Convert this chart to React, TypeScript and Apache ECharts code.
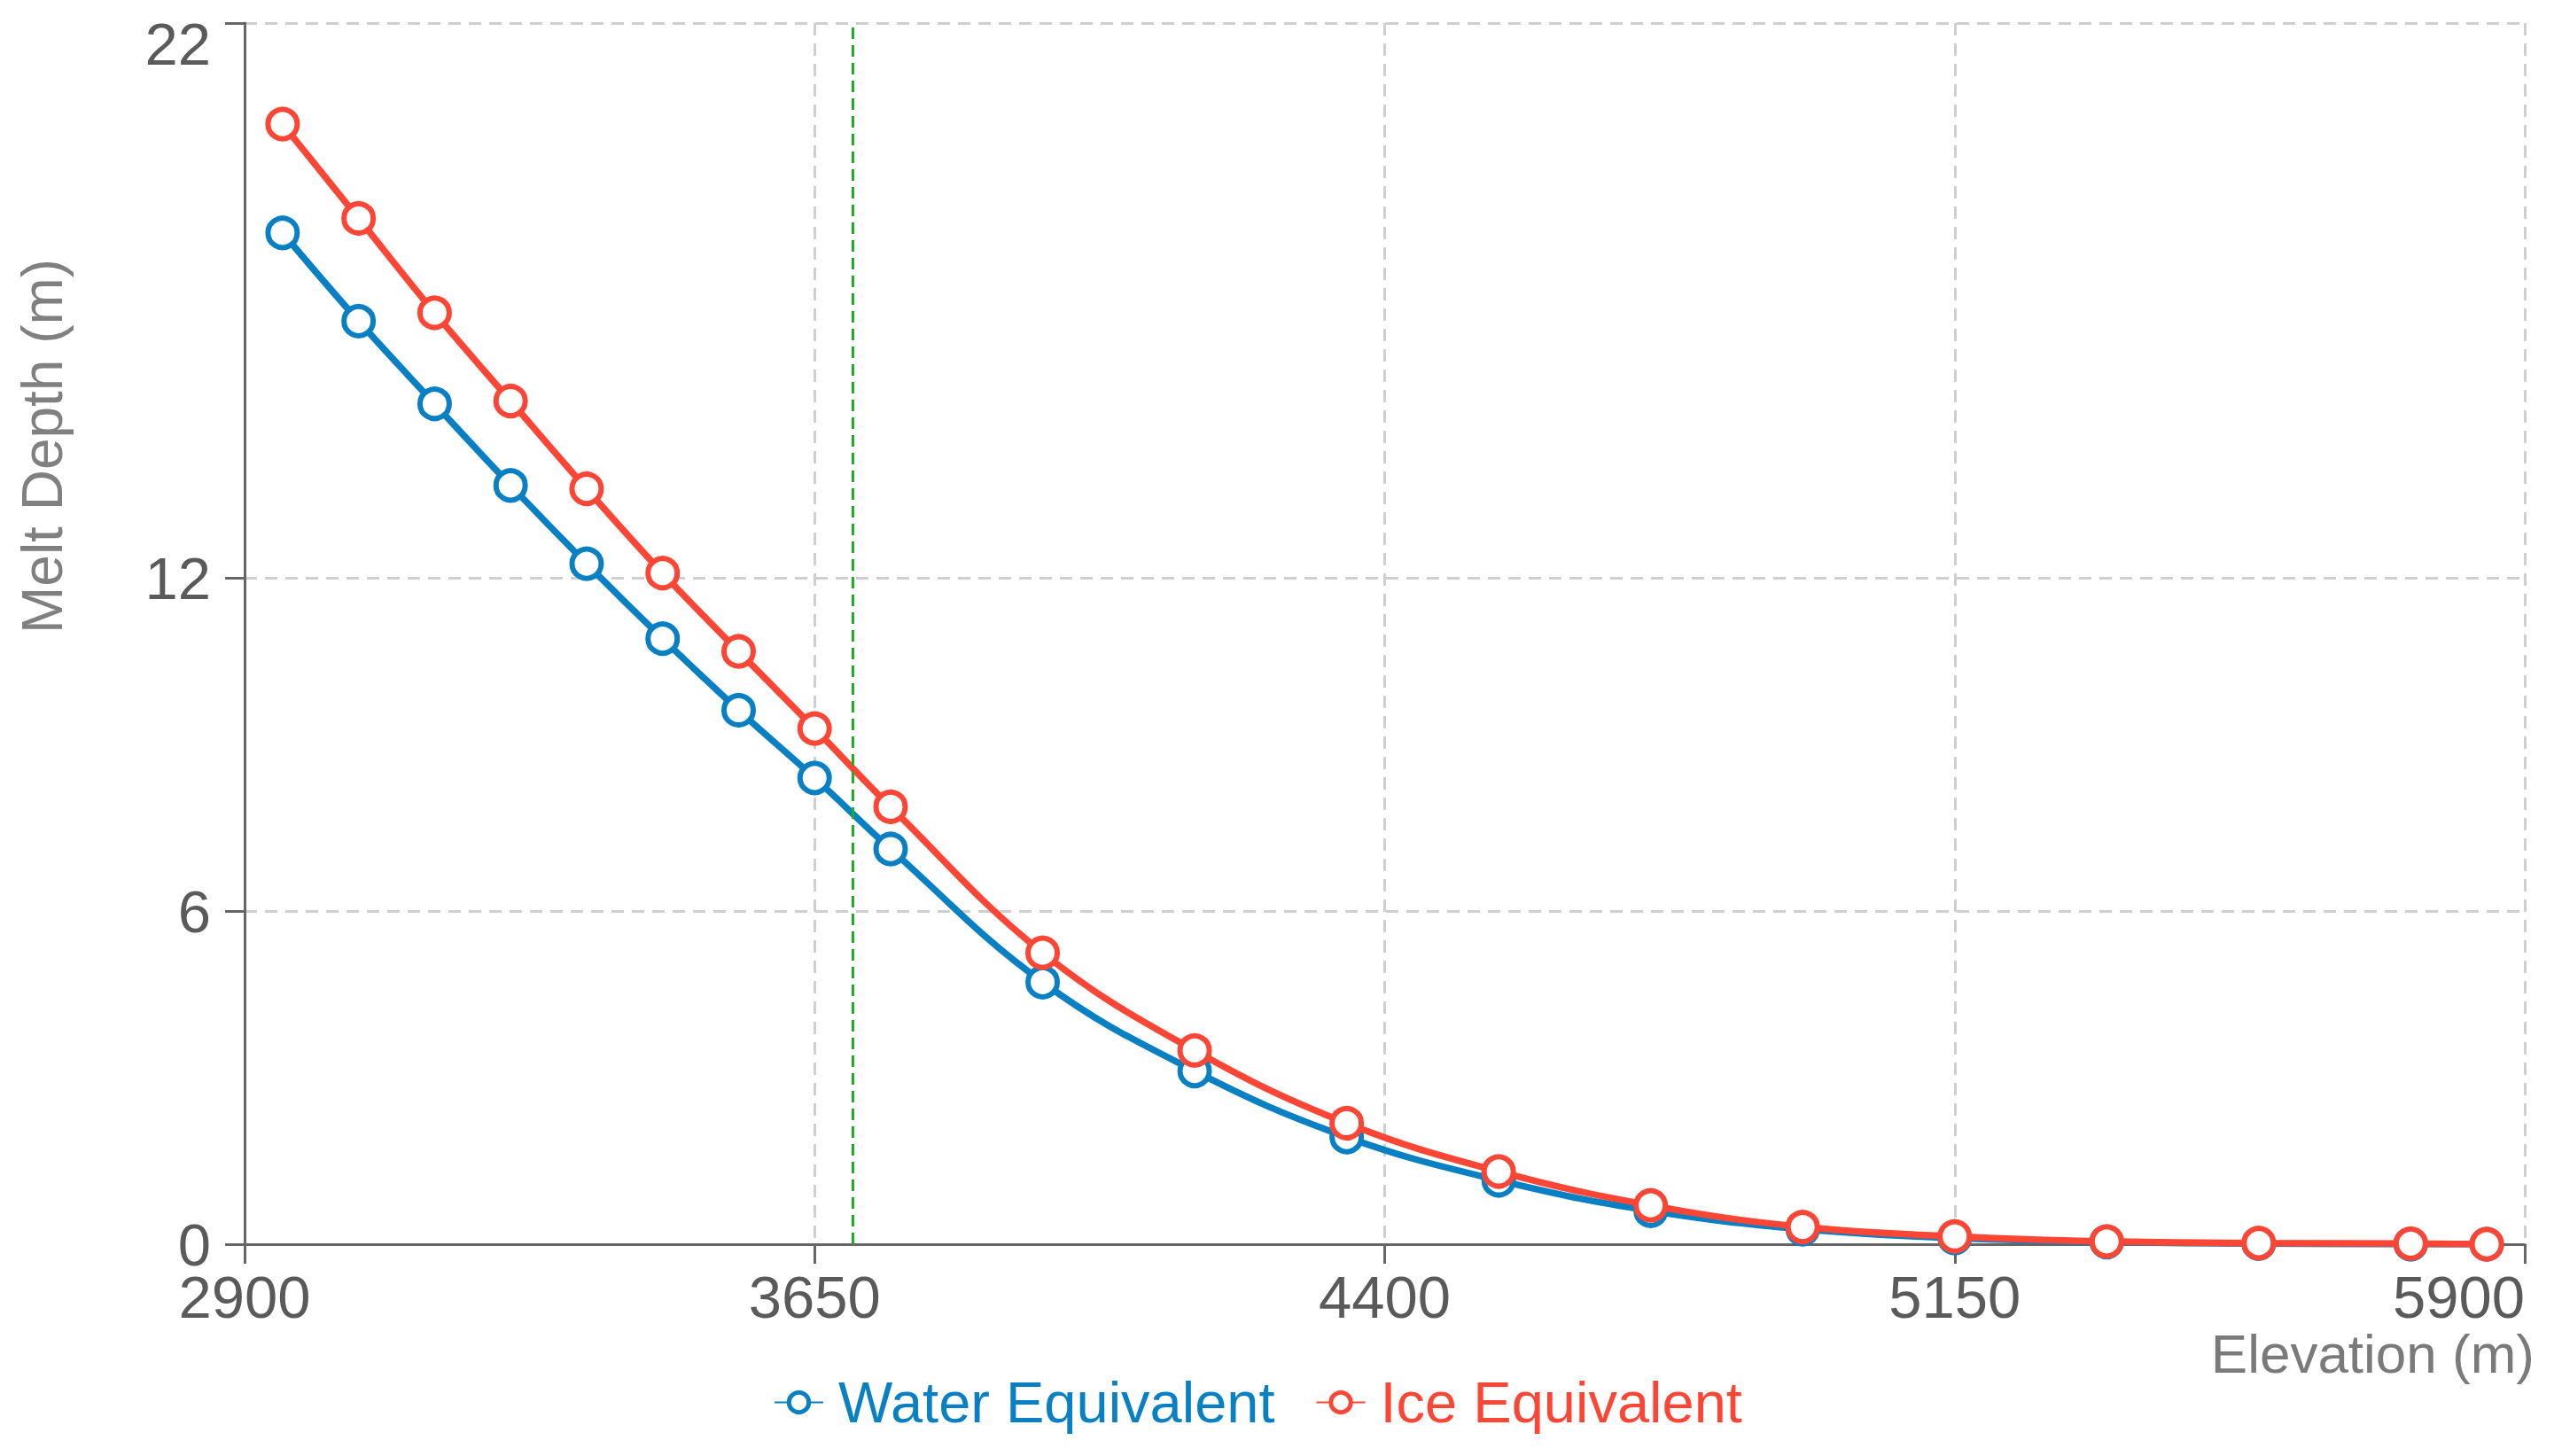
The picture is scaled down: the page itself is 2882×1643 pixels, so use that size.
import React, { useEffect, useRef } from "react";
import * as echarts from "echarts";

const elevations = [2950, 3050, 3150, 3250, 3350, 3450, 3550, 3650, 3750, 3950, 4150, 4350, 4550, 4750, 4950, 5150, 5350, 5550, 5750, 5850];
const waterEquivalent = [18.22, 16.63, 15.14, 13.67, 12.26, 10.91, 9.62, 8.4, 7.12, 4.72, 3.12, 1.93, 1.15, 0.6, 0.27, 0.11, 0.04, 0.01, 0.0, 0.0];
const iceEquivalent = [20.18, 18.48, 16.78, 15.19, 13.61, 12.09, 10.68, 9.29, 7.88, 5.25, 3.49, 2.18, 1.31, 0.7, 0.31, 0.14, 0.05, 0.02, 0.01, 0.0];
const xTicks = [2900, 3650, 4400, 5150, 5900];
const yTicks = [0, 6, 12, 22];
const thresholdElevation = 3700;
const seriesNames = ["Water Equivalent", "Ice Equivalent"];
const seriesColors = ["#0a80c4", "#fb4636"];
const xAxisName = "Elevation (m)";
const yAxisName = "Melt Depth (m)";

export default function App() {
  const ref = useRef<HTMLDivElement>(null);
  useEffect(() => {
    const chart = echarts.init(ref.current!, null, { renderer: "svg" });
    const font = "'Liberation Sans', Arial, Helvetica, sans-serif";
    const mkSeries = (i: number, values: number[]) => ({
      name: seriesNames[i],
      type: "line",
      smooth: 0.4,
      symbol: "circle",
      symbolSize: 33,
      data: elevations.map((e, k) => [e, values[k]]),
      lineStyle: { color: seriesColors[i], width: 7.5 },
      itemStyle: { color: "#ffffff", borderColor: seriesColors[i], borderWidth: 6 },
      z: 3 + i,
    });
    const water: any = mkSeries(0, waterEquivalent);
    water.markLine = {
      silent: true,
      symbol: "none",
      label: { show: false },
      lineStyle: { color: "#1fb01f", type: [13, 7], width: 3 },
      data: [{ xAxis: thresholdElevation }],
    };
    chart.setOption({
      animation: false,
      backgroundColor: "#ffffff",
      textStyle: { fontFamily: font },
      grid: { left: 276, right: 33, top: 26, bottom: 239, containLabel: false, outerBoundsMode: "none" },
      legend: {
        top: 1545,
        left: 868,
        itemWidth: 55,
        itemHeight: 28,
        itemGap: 46,
        textStyle: { fontSize: 65, fontFamily: font, padding: [0, 0, 0, 12] },
        data: seriesNames.map((n, i) => ({
          name: n,
          textStyle: { color: seriesColors[i] },
          itemStyle: { color: "#ffffff", borderColor: seriesColors[i], borderWidth: 5 },
        })),
      },
      graphic: [
        {
          type: "text",
          right: 22,
          top: 1496,
          style: { text: xAxisName, font: `62px ${font}`, lineHeight: 56, fill: "#7a7a7a" },
        },
      ],
      xAxis: {
        type: "value",
        min: 2900,
        max: 5900,
        axisLine: { show: true, lineStyle: { color: "#666666", width: 3 } },
        axisTick: { show: true, length: 22, customValues: xTicks, lineStyle: { color: "#666666", width: 3 } },
        axisLabel: {
          customValues: xTicks,
          fontSize: 67,
          lineHeight: 50,
          color: "#5a5a5a",
          margin: 34,
          alignMaxLabel: "right",
          formatter: (v: number) => String(v),
        },
        splitLine: { show: true, lineStyle: { color: "#cfcfcf", type: [14, 9], width: 3 } },
      },
      yAxis: {
        type: "value",
        min: 0,
        max: 22,
        name: yAxisName,
        nameLocation: "middle",
        nameGap: 196,
        nameTextStyle: { align: "left", fontSize: 64, color: "#808080" },
        axisLine: { show: true, lineStyle: { color: "#666666", width: 3 } },
        axisTick: { show: true, length: 22, customValues: yTicks, lineStyle: { color: "#666666", width: 3 } },
        axisLabel: {
          customValues: yTicks,
          fontSize: 67,
          lineHeight: 46,
          color: "#5a5a5a",
          margin: 38,
          verticalAlignMaxLabel: "top",
          formatter: (v: number) => String(v),
        },
        splitLine: { show: true, lineStyle: { color: "#cfcfcf", type: [14, 9], width: 3 } },
      },
      series: [water, mkSeries(1, iceEquivalent)],
    });
    return () => chart.dispose();
  }, []);
  return <div ref={ref} style={{ position: "absolute", left: 0, top: 0, width: 2882, height: 1643 }} />;
}
